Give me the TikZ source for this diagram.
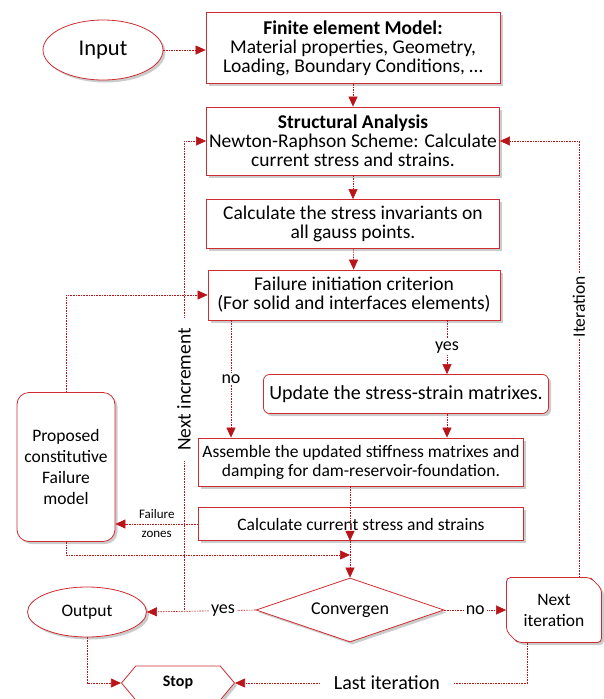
\documentclass[tikz,border=0pt]{standalone}
\usepackage{fontspec}
\setmainfont{Carlito}
\usetikzlibrary{shapes.geometric,shapes.symbols,shapes.misc,shadows,arrows.meta}
\definecolor{boxred}{RGB}{205,45,50}
\definecolor{linered}{RGB}{185,20,25}

\begin{document}
\begin{tikzpicture}[x=1pt, y=-1pt, >={Triangle[length=10pt,width=9pt]}, %坐标按像素
    box/.style={draw=boxred, thick, fill=white, align=center, inner sep=2pt,
        drop shadow={shadow xshift=2.5pt, shadow yshift=-2.5pt, opacity=0.4}},
    big/.style={font=\fontsize{19.5}{19}\selectfont},
    mid/.style={font=\fontsize{17.5}{19}\selectfont},
    flow/.style={->, linered, semithick, dash pattern=on 1.6pt off 1pt},
    lab/.style={fill=white, text=black, inner sep=2pt, font=\fontsize{18}{20}\selectfont}]
    \useasboundingbox (0,0) rectangle (603,699);

    % 上半部分
    \node[box, ellipse, minimum width=120pt, minimum height=60pt, font=\fontsize{22.5}{24}\selectfont] (input) at (103,50) {Input};
    \node[box, big, minimum width=294pt, minimum height=71pt] (fem) at (353,48) {\textbf{Finite element Model:}\\Material properties, Geometry,\\Loading, Boundary Conditions, \dots};
    \node[box, big, minimum width=293pt, minimum height=68pt] (sa) at (353,141) {\textbf{Structural Analysis}\\Newton-Raphson Scheme: Calculate\\current stress and strains.};
    \node[box, big, minimum width=293pt, minimum height=49pt] (inv) at (353,224) {Calculate the stress invariants on\\all gauss points.};
    \node[box, big, minimum width=292pt, minimum height=50pt] (fail) at (354,295) {Failure initiation criterion\\(For solid and interfaces elements)};
    \node[box, rounded corners=6pt, minimum width=285pt, minimum height=39pt, font=\fontsize{20}{22}\selectfont] (upd) at (406,394) {Update the stress-strain matrixes.};
    \node[box, mid, minimum width=325pt, minimum height=48pt] (asm) at (361,462) {Assemble the updated stiffness matrixes and\\damping for dam-reservoir-foundation.};
    \node[box, mid, minimum width=325pt, minimum height=33pt] (cur) at (361,524) {Calculate current stress and strains};
    \node[box, rounded corners=12pt, minimum width=98pt, minimum height=149pt, font=\fontsize{17.5}{21}\selectfont] (prop) at (66,467) {Proposed\\constitutive\\Failure\\model};

    % 下半部分
    \node[box, diamond, aspect=2.9, inner sep=0pt, minimum width=188pt, minimum height=64pt, font=\fontsize{18}{20}\selectfont] (conv) at (350,610) {Convergen};
    \node[box, ellipse, minimum width=119pt, minimum height=50pt, font=\fontsize{17.5}{19}\selectfont] (out) at (87,612) {Output};
    \node[box, chamfered rectangle, chamfered rectangle corners={north east,south west}, chamfered rectangle xsep=8pt, rounded corners=4pt, minimum width=95pt, minimum height=65pt, font=\fontsize{17.5}{21}\selectfont] (nit) at (554,610) {Next\\iteration};
    \node[box, signal, signal to=west and east, signal pointer angle=100, minimum width=113pt, minimum height=34pt, font=\bfseries\fontsize{16}{18}\selectfont] (stop) at (178,683) {Stop};

    \coordinate (incx) at (184,0);
    \coordinate (itx) at (579,0);
    \coordinate (nox) at (231,0);
    \coordinate (yesx) at (447,0);
    \coordinate (lastx) at (527,0);
    \coordinate (join) at (350,555);

    \draw[flow] (input.east) -- (input.east -| fem.west);
    \draw[flow] (fem) -- (sa);
    \draw[flow] (sa) -- (inv);
    \draw[flow] (inv) -- (fail);
    \draw[flow] (fail.south -| nox) -- node[lab]{no} (asm.north -| nox);
    \draw[flow] (fail.south -| yesx) -- node[lab]{yes} (upd.north -| yesx);
    \draw[flow] (upd.south -| yesx) -- (asm.north -| yesx);
    \draw[flow] (asm.south -| conv) -- (cur.south -| conv);
    \draw[flow] (cur.south -| conv) -- (conv.north);
    \draw[flow] (cur.west) -- node[text=black, font=\fontsize{13}{19}\selectfont, align=center]{Failure\\zones} (prop.east |- cur.west);
    \draw[flow] (prop.north) |- (fail.west);
    \draw[flow] (prop.south) |- (join);
    \draw[flow] (conv.west) -- node[lab, pos=0.3]{yes} (out.east);
    \draw[flow] (conv.west -| incx) -- node[lab, rotate=90, pos=0.47, inner xsep=10pt, font=\fontsize{19.5}{20}\selectfont]{Next increment} (sa.west -| incx) -- (sa.west);
    \draw[flow] (conv.east) -- node[lab]{no} (nit.west);
    \draw[flow] (nit.north -| itx) -- node[lab, rotate=90, pos=0.62, font=\fontsize{17.5}{20}\selectfont]{Iteration} (sa.east -| itx) -- (sa.east);
    \draw[flow] (out.south) |- (stop.west);
    \draw[flow] (nit.south -| lastx) |- node[lab, pos=0.74, inner xsep=14pt, font=\fontsize{20}{22}\selectfont]{Last iteration} (stop.east);
\end{tikzpicture}
\end{document}
